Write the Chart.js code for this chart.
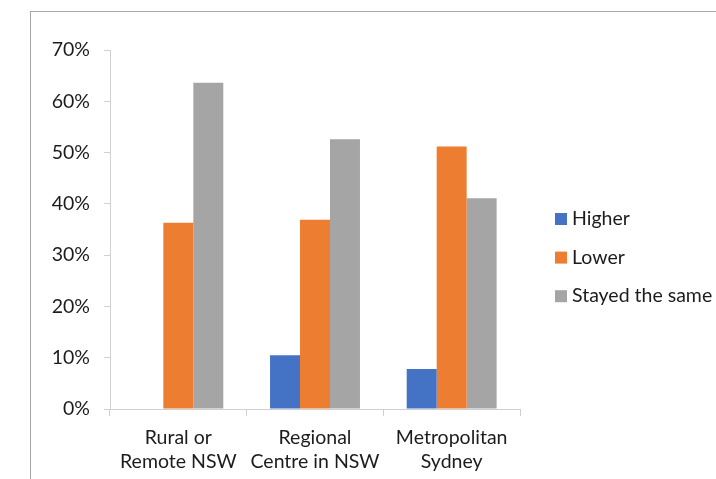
<!DOCTYPE html>
<html>
<head>
<meta charset="utf-8">
<script src="https://cdn.jsdelivr.net/npm/chart.js@4"></script>
<style>
  html, body { margin: 0; padding: 0; background: #fff; overflow: hidden; }
  #wrap { position: relative; width: 716px; height: 479px; overflow: hidden; }
  #frame { position: absolute; left: 30px; top: 11px; width: 740px; height: 540px;
           border: 1.5px solid #a6a6a6; box-sizing: border-box; }
  canvas { position: absolute; left: 0; top: 0; }
</style>
</head>
<body>
<div id="wrap">
  <div id="frame"></div>
  <canvas id="c" width="716" height="479"></canvas>
</div>
<script>
// Categories (multi-line axis labels)
const categories = [
  ['Rural or', 'Remote NSW'],
  ['Regional', 'Centre in NSW'],
  ['Metropolitan', 'Sydney']
];

// Share of responses, in percent
const higher = [0, 10.5, 7.8];
const lower  = [36.3, 36.9, 51.2];
const same   = [63.6, 52.6, 41.1];

const seriesNames  = ['Higher', 'Lower', 'Stayed the same'];
const seriesColors = ['#4472C4', '#ED7D31', '#A5A5A5'];

// Y axis range and tick spacing (percent)
const yMin = 0, yMax = 70, yStep = 10;

const FONT = { family: 'Lato', size: 19.5 };
const TEXT = '#1c1c1c';
const AXIS = '#d0d0d0';

// Legend drawn on the right side of the plot
const sideLegend = {
  id: 'sideLegend',
  afterDraw(chart) {
    const ctx = chart.ctx;
    ctx.save();
    ctx.font = `${FONT.size}px ${FONT.family}`;
    ctx.textBaseline = 'middle';
    ctx.textAlign = 'left';
    chart.data.datasets.forEach((ds, i) => {
      const cy = 219 + i * 38.6;
      ctx.fillStyle = ds.backgroundColor;
      ctx.fillRect(555, cy - 6, 12, 12);
      ctx.fillStyle = TEXT;
      ctx.fillText(ds.label, 572, cy);
    });
    ctx.restore();
  }
};

new Chart(document.getElementById('c'), {
  type: 'bar',
  data: {
    labels: categories,
    datasets: [higher, lower, same].map((vals, i) => ({
      label: seriesNames[i],
      data: vals,
      backgroundColor: seriesColors[i],
      borderWidth: 0,
      categoryPercentage: 0.658,
      barPercentage: 1.0
    }))
  },
  options: {
    responsive: false,
    devicePixelRatio: 1,
    animation: false,
    layout: { padding: { top: 50, right: 196, bottom: 0, left: 0 } },
    plugins: {
      legend: { display: false },
      tooltip: { enabled: false }
    },
    scales: {
      x: {
        grid: { offset: true, drawOnChartArea: false, drawTicks: true, tickLength: 7, color: AXIS },
        border: { color: AXIS, width: 1 },
        ticks: { font: { ...FONT, lineHeight: 1.27 }, color: TEXT, padding: 9, maxRotation: 0 },
        afterFit(s) { s.height = 70; }
      },
      y: {
        min: yMin, max: yMax,
        grid: { drawOnChartArea: false, drawTicks: true, tickLength: 6, color: AXIS },
        border: { color: AXIS, width: 1 },
        ticks: {
          stepSize: yStep,
          font: FONT, color: TEXT, padding: 14,
          callback: v => v + '%'
        },
        afterFit(s) { s.width = 110; }
      }
    }
  },
  plugins: [sideLegend]
});
</script>
</body>
</html>
